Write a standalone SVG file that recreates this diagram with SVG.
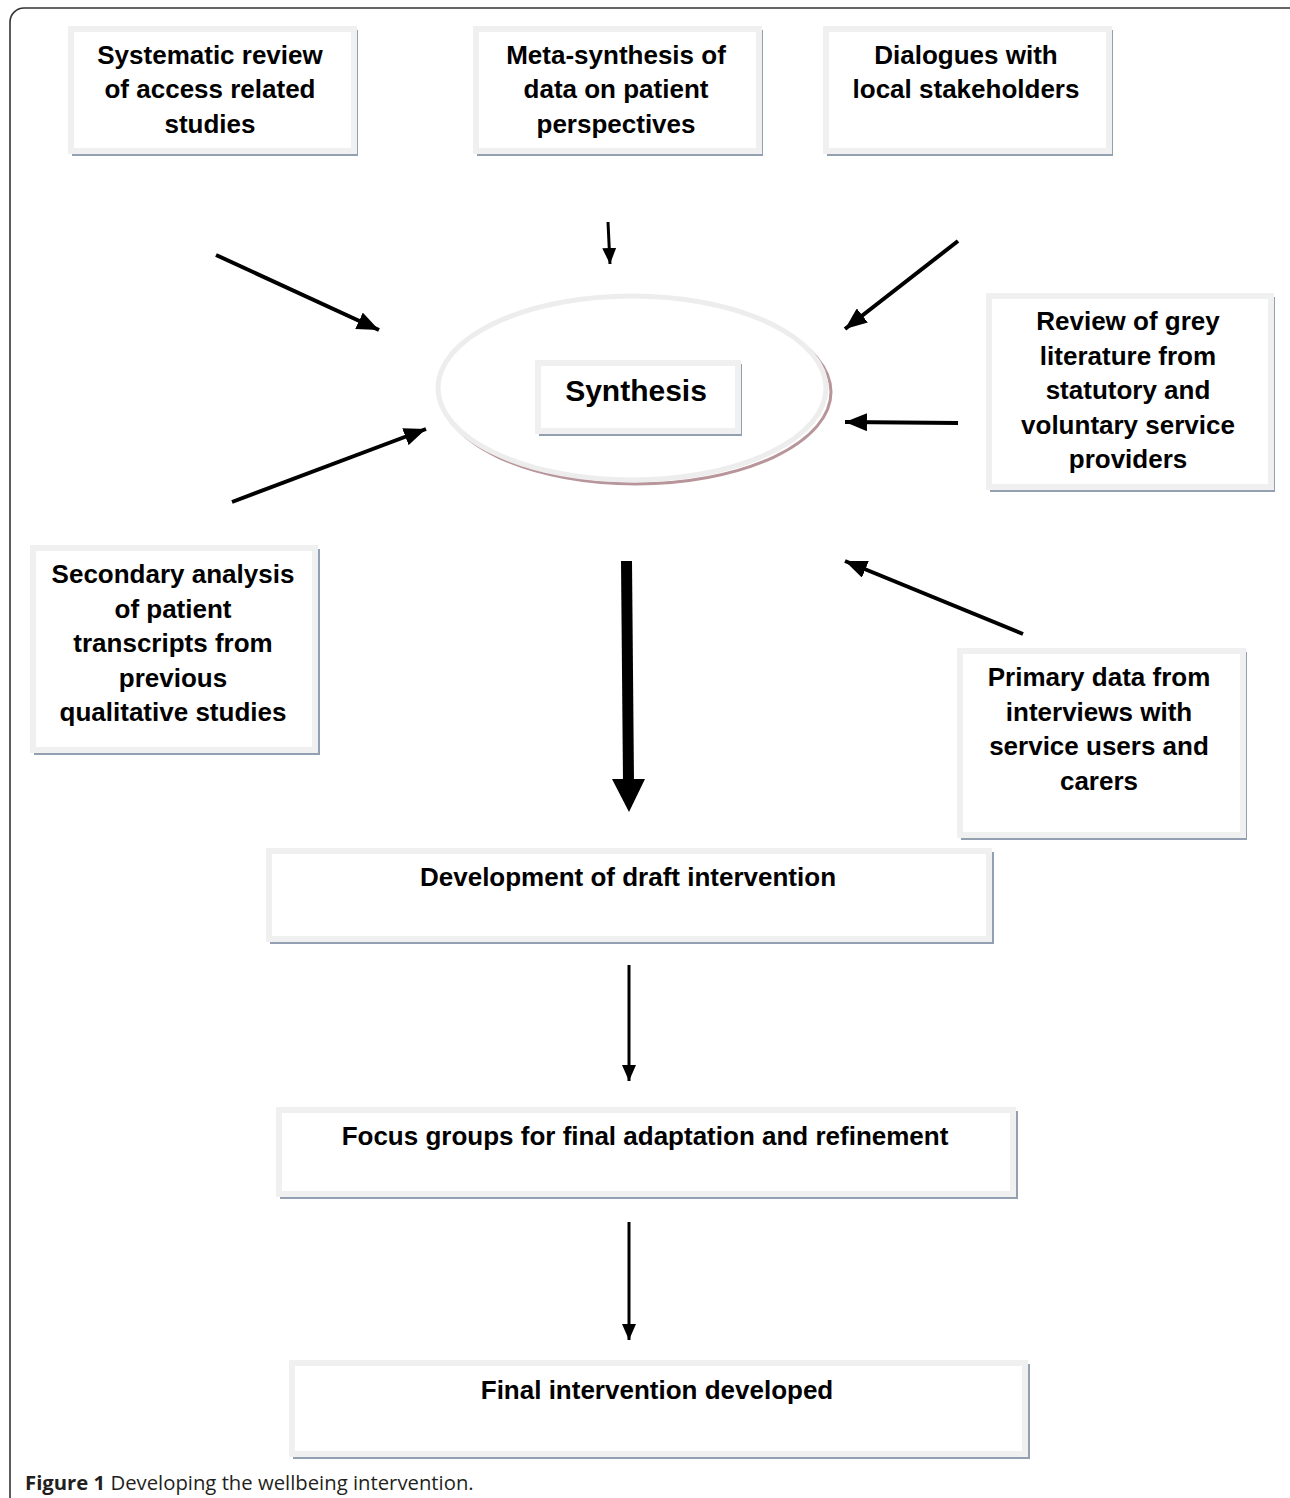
<svg xmlns="http://www.w3.org/2000/svg" width="1290" height="1498" viewBox="0 0 1290 1498">
<defs>
<style>
.sh{fill:#93a0b1}
.bx{fill:#fff;stroke:#f0f0f0;stroke-width:6}
.t{font-family:"Liberation Sans",Arial,sans-serif;font-weight:bold;font-size:26px;fill:#000;text-anchor:middle}
.ar{stroke:#000;stroke-width:4;fill:none;marker-end:url(#ah)}
.ar2{stroke:#000;stroke-width:3;fill:none;marker-end:url(#ah2)}
</style>
<marker id="ah" markerUnits="userSpaceOnUse" viewBox="0 0 22 18" refX="22" refY="9" markerWidth="22" markerHeight="18" orient="auto"><path d="M0,0 L22,9 L0,18 Z" fill="#000"/></marker>
<marker id="ah2" markerUnits="userSpaceOnUse" viewBox="0 0 16 14" refX="16" refY="7" markerWidth="16" markerHeight="14" orient="auto"><path d="M0,0 L16,7 L0,14 Z" fill="#000"/></marker>
</defs>
<rect x="0" y="0" width="1290" height="1498" fill="#fff"/>
<rect x="10" y="8" width="1300" height="1520" rx="14" fill="none" stroke="#333" stroke-width="1.6"/>

<g id="n-systematic">
<rect class="sh" x="72" y="30" width="286" height="126"/>
<rect class="bx" x="71" y="29" width="283" height="122"/>
<text class="t" x="210" y="64">Systematic review</text>
<text class="t" x="210" y="98">of access related</text>
<text class="t" x="210" y="133">studies</text>
</g>
<g id="n-meta">
<rect class="sh" x="477" y="30" width="286" height="126"/>
<rect class="bx" x="476" y="29" width="283" height="122"/>
<text class="t" x="616" y="64">Meta-synthesis of</text>
<text class="t" x="616" y="98">data on patient</text>
<text class="t" x="616" y="133">perspectives</text>
</g>
<g id="n-dialogues">
<rect class="sh" x="827" y="30" width="286" height="126"/>
<rect class="bx" x="826" y="29" width="283" height="122"/>
<text class="t" x="966" y="64">Dialogues with</text>
<text class="t" x="966" y="98">local stakeholders</text>
</g>
<g id="n-grey">
<rect class="sh" x="990" y="297" width="285" height="195"/>
<rect class="bx" x="989" y="296" width="282" height="191"/>
<text class="t" x="1128" y="330">Review of grey</text>
<text class="t" x="1128" y="365">literature from</text>
<text class="t" x="1128" y="399">statutory and</text>
<text class="t" x="1128" y="434">voluntary service</text>
<text class="t" x="1128" y="468">providers</text>
</g>
<g id="n-secondary">
<rect class="sh" x="34" y="549" width="286" height="206"/>
<rect class="bx" x="33" y="548" width="282" height="202"/>
<text class="t" x="173" y="583">Secondary analysis</text>
<text class="t" x="173" y="618">of patient</text>
<text class="t" x="173" y="652">transcripts from</text>
<text class="t" x="173" y="687">previous</text>
<text class="t" x="173" y="721">qualitative studies</text>
</g>
<g id="n-primary">
<rect class="sh" x="961" y="652" width="286" height="188"/>
<rect class="bx" x="960" y="651" width="283" height="184"/>
<text class="t" x="1099" y="686">Primary data from</text>
<text class="t" x="1099" y="721">interviews with</text>
<text class="t" x="1099" y="755">service users and</text>
<text class="t" x="1099" y="790">carers</text>
</g>
<g id="n-synthesis">
<ellipse cx="636" cy="392" rx="195" ry="92" fill="none" stroke="#b8959a" stroke-width="3"/>
<ellipse cx="632" cy="388" rx="194" ry="92" fill="#fff" stroke="#ededed" stroke-width="5"/>
<rect class="sh" x="539" y="364" width="203" height="72"/>
<rect class="bx" x="538" y="363" width="200" height="68"/>
<text class="t" x="636" y="401" style="font-size:30px">Synthesis</text>
</g>
<g id="n-draft">
<rect class="sh" x="270" y="852" width="724" height="92"/>
<rect class="bx" x="269" y="851" width="720" height="88"/>
<text class="t" x="628" y="886">Development of draft intervention</text>
</g>
<g id="n-focus">
<rect class="sh" x="280" y="1111" width="738" height="88"/>
<rect class="bx" x="279" y="1110" width="734" height="84"/>
<text class="t" x="645" y="1145">Focus groups for final adaptation and refinement</text>
</g>
<g id="n-final">
<rect class="sh" x="293" y="1364" width="737" height="95"/>
<rect class="bx" x="292" y="1363" width="733" height="91"/>
<text class="t" x="657" y="1399">Final intervention developed</text>
</g>

<g id="connectors">
<line class="ar" x1="216" y1="255" x2="379" y2="330"/>
<line class="ar2" x1="608" y1="222" x2="610" y2="264"/>
<line class="ar" x1="958" y1="241" x2="845" y2="329"/>
<line class="ar" x1="958" y1="423" x2="845" y2="422"/>
<line class="ar" x1="232" y1="502" x2="426" y2="429"/>
<line class="ar" x1="1023" y1="634" x2="845" y2="561"/>
<line x1="626.5" y1="561" x2="628.5" y2="782" stroke="#000" stroke-width="11"/>
<path d="M612,779 L645,779 L629,812 Z" fill="#000"/>
<line class="ar2" x1="629" y1="965" x2="629" y2="1081"/>
<line class="ar2" x1="629" y1="1222" x2="629" y2="1340"/>
</g>

<text x="25" y="1490" style="font-family:'Open Sans','Liberation Sans',sans-serif;font-size:20.3px;fill:#231f20"><tspan font-weight="bold">Figure 1</tspan> Developing the wellbeing intervention.</text>
</svg>
